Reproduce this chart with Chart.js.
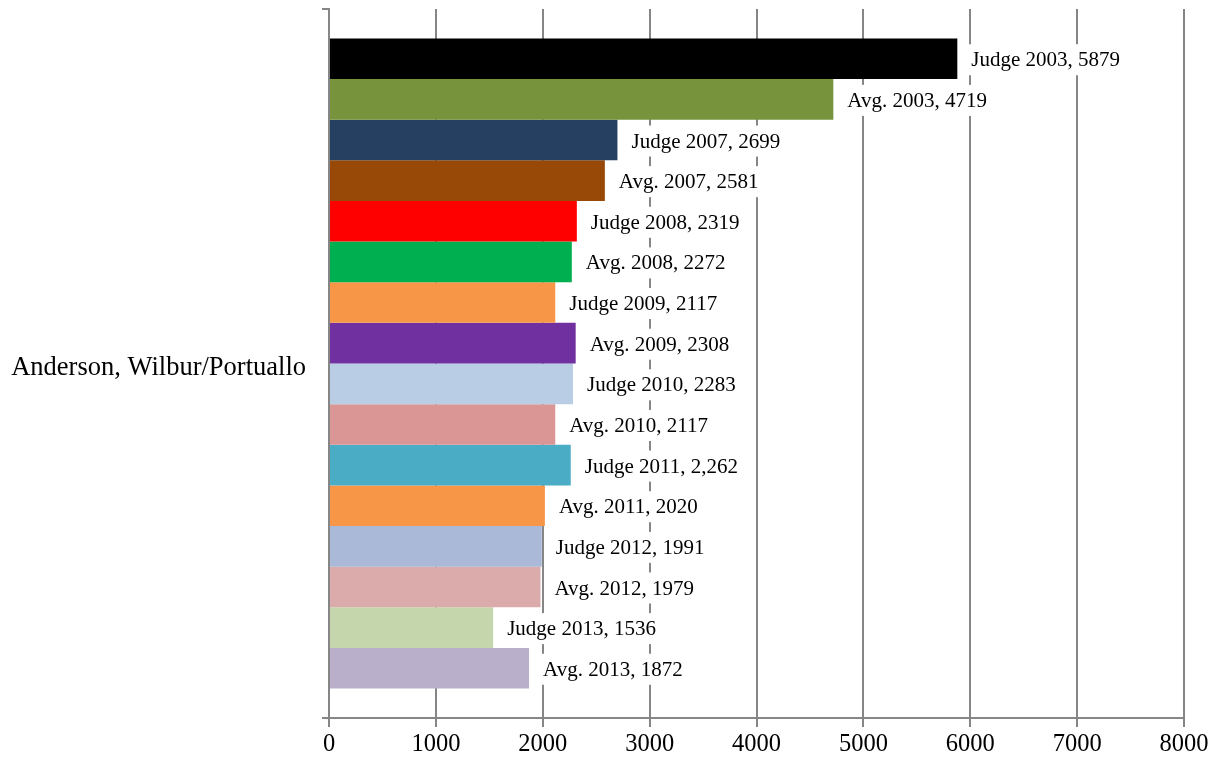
<!DOCTYPE html>
<html>
<head>
<meta charset="utf-8">
<script src="https://cdn.jsdelivr.net/npm/chart.js@4/dist/chart.umd.min.js"></script>
<style>
    html, body { margin: 0; padding: 0; background: #fff; }
    #wrap { width: 1214px; height: 761px; }
</style>
</head>
<body>
<div id="wrap"><canvas id="grafico"></canvas></div>
<script>
const categorias = ['Anderson, Wilbur/Portuallo'];

const series = [
    'Judge 2003', 'Avg. 2003',
    'Judge 2007', 'Avg. 2007',
    'Judge 2008', 'Avg. 2008',
    'Judge 2009', 'Avg. 2009',
    'Judge 2010', 'Avg. 2010',
    'Judge 2011', 'Avg. 2011',
    'Judge 2012', 'Avg. 2012',
    'Judge 2013', 'Avg. 2013'
];

const valores = [5879, 4719, 2699, 2581, 2319, 2272, 2117, 2308, 2283, 2117, 2262, 2020, 1991, 1979, 1536, 1872];

// texto mostrado ao lado de cada barra (2011 vem com separador de milhar)
const rotulos = ['5879', '4719', '2699', '2581', '2319', '2272', '2117', '2308', '2283', '2117', '2,262', '2020', '1991', '1979', '1536', '1872'];

const cores = [
    '#000000', '#77933C',
    '#254061', '#984807',
    '#FF0000', '#00B050',
    '#F79646', '#7030A0',
    '#B9CDE5', '#D99694',
    '#4BACC6', '#F79646',
    '#AAB9D7', '#DBABAB',
    '#C6D6AC', '#B9AFCA'
];

const eixoTicks = [0, 1000, 2000, 3000, 4000, 5000, 6000, 7000, 8000];

const fonteSerif = '"Liberation Serif", "Times New Roman", serif';
const corGrade = '#868686';

// desenha "Serie, valor" numa caixa branca à direita de cada barra
const rotulosBarras = {
    id: 'rotulosBarras',
    afterDatasetsDraw(chart) {
        const ctx = chart.ctx;
        ctx.save();
        ctx.font = '21px ' + fonteSerif;
        ctx.textBaseline = 'middle';
        chart.data.datasets.forEach((ds, i) => {
            const meta = chart.getDatasetMeta(i);
            const bar = meta.data[0];
            if (!bar) return;
            const texto = series[i] + ', ' + rotulos[i];
            const largura = ctx.measureText(texto).width;
            const x0 = bar.x + 6;
            const altura = 31;
            ctx.fillStyle = '#ffffff';
            ctx.fillRect(x0, bar.y - altura / 2 + 1, largura + 16, altura);
            ctx.fillStyle = '#000000';
            ctx.fillText(texto, x0 + 8, bar.y + 2);
        });
        ctx.restore();
    }
};

const datasets = series.map((nome, i) => ({
    label: nome,
    data: [valores[i]],
    backgroundColor: cores[i],
    borderWidth: 0,
    barPercentage: 1,
    categoryPercentage: 0.917
}));

new Chart(document.getElementById('grafico'), {
    type: 'bar',
    data: { labels: categorias, datasets },
    plugins: [rotulosBarras],
    options: {
        indexAxis: 'y',
        responsive: true,
        maintainAspectRatio: false,
        animation: false,
        layout: { padding: { top: 9, right: 30, bottom: 0, left: 0 } },
        plugins: {
            legend: { display: false },
            tooltip: { enabled: false }
        },
        scales: {
            x: {
                min: 0,
                max: 8000,
                afterBuildTicks: (scale) => {
                    scale.ticks = eixoTicks.map((v) => ({ value: v }));
                },
                afterFit: (scale) => { scale.height = 43; },
                grid: {
                    color: corGrade,
                    lineWidth: 2,
                    tickLength: 9,
                    drawOnChartArea: true
                },
                border: { color: corGrade, width: 2 },
                ticks: {
                    color: '#000',
                    padding: 3,
                    maxRotation: 0,
                    callback: (valor) => String(valor),
                    font: { family: fonteSerif, size: 24.5 }
                }
            },
            y: {
                afterFit: (scale) => {
                    scale.width = 329;
                    scale.paddingTop = 0;
                    scale.paddingBottom = 0;
                },
                grid: {
                    color: corGrade,
                    lineWidth: 2,
                    tickLength: 7,
                    drawOnChartArea: false,
                    offset: true
                },
                border: { color: corGrade, width: 2 },
                ticks: {
                    color: '#000',
                    padding: 16,
                    labelOffset: 5,
                    font: { family: fonteSerif, size: 26.5 }
                }
            }
        }
    }
});
</script>
</body>
</html>
